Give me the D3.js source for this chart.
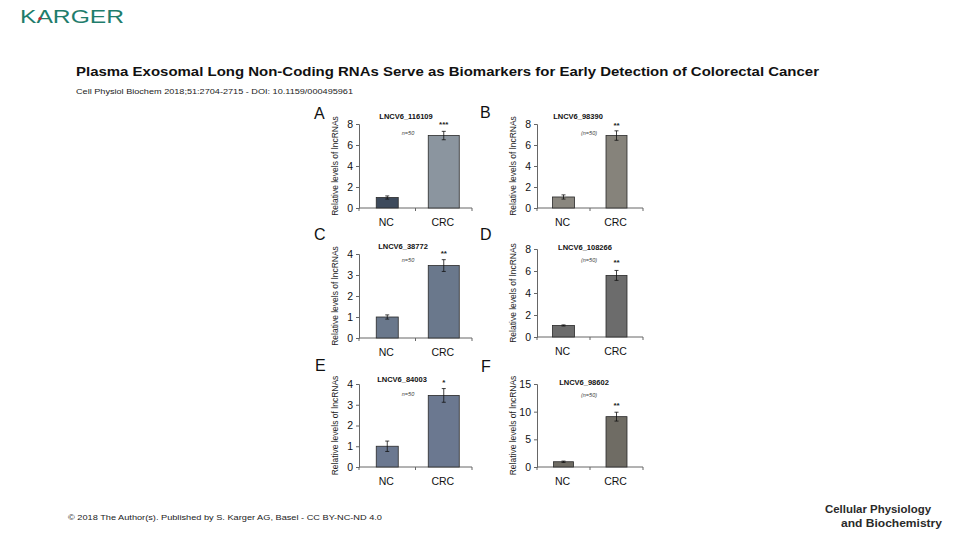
<!DOCTYPE html>
<html>
<head>
<meta charset="utf-8">
<script src="https://cdn.jsdelivr.net/npm/d3@7"></script>
<style>
  html, body { margin: 0; padding: 0; background: #ffffff; }
  svg { display: block; }
  text { font-family: "Liberation Sans", Arial, sans-serif; }
</style>
</head>
<body>
<svg id="chart" width="960" height="540"></svg>
<script>
// ---------------- DATA ----------------
const categories = ["NC", "CRC"];
const panelLetters = ["A", "B", "C", "D", "E", "F"];
const geneNames = ["LNCV6_116109", "LNCV6_98390", "LNCV6_38772", "LNCV6_108266", "LNCV6_84003", "LNCV6_98602"];
const ncMeans  = [1.0, 1.05, 1.0, 1.05, 1.0, 0.95];
const crcMeans = [6.9, 6.9, 3.45, 5.6, 3.45, 9.1];
const ncErrors  = [0.15, 0.2, 0.1, 0.05, 0.25, 0.12];
const crcErrors = [0.4, 0.45, 0.28, 0.45, 0.33, 0.8];
const significance = ["***", "**", "**", "**", "*", "**"];
const sampleLabels = ["n=50", "(n=50)", "n=50", "(n=50)", "n=50", "(n=50)"];
const yMaxima = [8, 8, 4, 8, 4, 15];
const yTickValues = [[0,2,4,6,8],[0,2,4,6,8],[0,1,2,3,4],[0,2,4,6,8],[0,1,2,3,4],[0,5,10,15]];
const yAxisTitle = "Relative levels of lncRNAs";
const mainTitle = "Plasma Exosomal Long Non-Coding RNAs Serve as Biomarkers for Early Detection of Colorectal Cancer";
const citation = "Cell Physiol Biochem 2018;51:2704-2715 -  DOI: 10.1159/000495961";
const footer = "\u00a9 2018 The Author(s). Published by S. Karger AG, Basel - CC BY-NC-ND 4.0";

// ---------------- LAYOUT / STYLE ----------------
const layout = [
  {x0: 359, x1: 472, yTop: 124, yBot: 208, letterX: 314, letterY: 119, titleX: 406, titleY: 119, nX: 408, nY: 135, barW: [22, 31], colors: ["#3d4a5c", "#8b959f"], starDy: -4},
  {x0: 537, x1: 643, yTop: 124, yBot: 208, letterX: 480, letterY: 118, titleX: 578, titleY: 119, nX: 589, nY: 135, barW: [22, 21], colors: ["#8a877f", "#86837b"], starDy: -3},
  {x0: 359, x1: 472, yTop: 254, yBot: 338, letterX: 314, letterY: 240, titleX: 403, titleY: 249, nX: 408, nY: 262, barW: [22, 31], colors: ["#6a788c", "#6a788c"], starDy: -4},
  {x0: 537, x1: 643, yTop: 249, yBot: 337, letterX: 480, letterY: 240, titleX: 585, titleY: 250, nX: 589, nY: 262, barW: [22, 21], colors: ["#6c6c6c", "#6c6c6c"], starDy: -5},
  {x0: 359, x1: 472, yTop: 384, yBot: 467, letterX: 315, letterY: 371, titleX: 402, titleY: 382, nX: 408, nY: 396, barW: [22, 31], colors: ["#6b7890", "#6b7890"], starDy: -4},
  {x0: 537, x1: 643, yTop: 384, yBot: 467, letterX: 481, letterY: 372, titleX: 584, titleY: 385, nX: 589, nY: 397, barW: [20, 21], colors: ["#6f6c64", "#6f6c64"], starDy: -4}
];

const svg = d3.select("#chart");

// Header: KARGER logo
svg.append("text")
  .attr("x", 20).attr("y", 23)
  .attr("font-size", 18).attr("font-weight", "normal")
  .attr("fill", "#1f7d6c")
  .attr("textLength", 104).attr("lengthAdjust", "spacingAndGlyphs")
  .text("KARGER");
svg.append("circle").attr("cx", 40).attr("cy", 18.5).attr("r", 1.6).attr("fill", "#d0202a");

// Title & citation
svg.append("text")
  .attr("x", 76).attr("y", 76)
  .attr("font-size", 13).attr("font-weight", "bold").attr("fill", "#111")
  .attr("textLength", 743).attr("lengthAdjust", "spacingAndGlyphs")
  .text(mainTitle);
svg.append("text")
  .attr("x", 76).attr("y", 94)
  .attr("font-size", 8).attr("fill", "#222")
  .attr("textLength", 277).attr("lengthAdjust", "spacingAndGlyphs")
  .text(citation);

// Footer
svg.append("text")
  .attr("x", 68).attr("y", 520)
  .attr("font-size", 8).attr("fill", "#222")
  .attr("textLength", 314).attr("lengthAdjust", "spacingAndGlyphs")
  .text(footer);

// Journal logo
svg.append("text")
  .attr("x", 825).attr("y", 513)
  .attr("font-size", 11.5).attr("fill", "#2a2a2a").attr("font-weight", "bold")
  .attr("textLength", 106).attr("lengthAdjust", "spacingAndGlyphs")
  .text("Cellular Physiology");
svg.append("text")
  .attr("x", 841).attr("y", 527)
  .attr("font-size", 11.5).attr("fill", "#2a2a2a").attr("font-weight", "bold")
  .attr("textLength", 101).attr("lengthAdjust", "spacingAndGlyphs")
  .text("and Biochemistry");

// ---------------- PANELS ----------------
layout.forEach((L, i) => {
  const g = svg.append("g");
  const x = d3.scaleBand().domain(categories).range([L.x0, L.x1]);
  const y = d3.scaleLinear().domain([0, yMaxima[i]]).range([L.yBot, L.yTop]);

  // Y axis
  const yAxis = d3.axisLeft(y).tickValues(yTickValues[i]).tickSize(3).tickPadding(3).tickFormat(d3.format("d"));
  const ya = g.append("g").attr("transform", `translate(${L.x0},0)`).call(yAxis);
  ya.select(".domain").attr("stroke", "#666").attr("stroke-width", 1);
  ya.selectAll(".tick line").attr("stroke", "#666");
  ya.selectAll(".tick text").attr("font-size", 10.5).attr("fill", "#111").attr("font-family", "Liberation Sans, Arial, sans-serif");

  // X axis: line + boundary ticks
  const xa = g.append("g").attr("transform", `translate(0,${L.yBot})`);
  xa.append("line").attr("x1", L.x0).attr("x2", L.x1).attr("y1", 0).attr("y2", 0).attr("stroke", "#666");
  const boundaries = categories.map(c => x(c)).concat([x.range()[1]]);
  xa.selectAll("line.tk").data(boundaries).enter().append("line")
    .attr("class", "tk")
    .attr("x1", d => d).attr("x2", d => d).attr("y1", 0).attr("y2", 3)
    .attr("stroke", "#666");
  xa.selectAll("text").data(categories).enter().append("text")
    .attr("x", d => x(d) + x.bandwidth() / 2 - 1)
    .attr("y", 18)
    .attr("text-anchor", "middle")
    .attr("font-size", 10.5).attr("fill", "#111")
    .text(d => d);

  // Bars
  const means = [ncMeans[i], crcMeans[i]];
  const errs = [ncErrors[i], crcErrors[i]];
  const bars = categories.map((c, k) => ({cat: c, v: means[k], e: errs[k], w: L.barW[k], color: L.colors[k]}));
  g.selectAll("rect.bar").data(bars).enter().append("rect")
    .attr("class", "bar")
    .attr("x", d => x(d.cat) + x.bandwidth() / 2 - d.w / 2)
    .attr("y", d => y(d.v))
    .attr("width", d => d.w)
    .attr("height", d => y(0) - y(d.v))
    .attr("fill", d => d.color)
    .attr("stroke", "#2a2a2a").attr("stroke-width", 0.8);

  // Error bars
  const eb = g.selectAll("g.eb").data(bars).enter().append("g").attr("class", "eb");
  eb.append("line")
    .attr("x1", d => x(d.cat) + x.bandwidth() / 2).attr("x2", d => x(d.cat) + x.bandwidth() / 2)
    .attr("y1", d => y(d.v + d.e)).attr("y2", d => y(d.v - d.e))
    .attr("stroke", "#111").attr("stroke-width", 0.8);
  [1, -1].forEach(s => {
    eb.append("line")
      .attr("x1", d => x(d.cat) + x.bandwidth() / 2 - 2).attr("x2", d => x(d.cat) + x.bandwidth() / 2 + 2)
      .attr("y1", d => y(d.v + s * d.e)).attr("y2", d => y(d.v + s * d.e))
      .attr("stroke", "#111").attr("stroke-width", 0.8);
  });

  // Significance stars above CRC error bar
  const crc = bars[1];
  g.append("text")
    .attr("x", x(crc.cat) + x.bandwidth() / 2)
    .attr("y", y(crc.v + crc.e) + L.starDy)
    .attr("text-anchor", "middle")
    .attr("font-size", 8).attr("font-weight", "bold").attr("fill", "#222")
    .text(significance[i]);

  // Panel title
  g.append("text")
    .attr("x", L.titleX).attr("y", L.titleY)
    .attr("text-anchor", "middle")
    .attr("font-size", 7.5).attr("font-weight", "bold").attr("fill", "#111")
    .text(geneNames[i]);

  // Sample size
  g.append("text")
    .attr("x", L.nX).attr("y", L.nY)
    .attr("text-anchor", "middle")
    .attr("font-size", 5.5).attr("fill", "#444").attr("font-style", "italic")
    .text(sampleLabels[i]);

  // Panel letter
  g.append("text")
    .attr("x", L.letterX).attr("y", L.letterY)
    .attr("font-size", 16).attr("fill", "#111")
    .text(panelLetters[i]);

  // Y axis title
  const midY = (L.yTop + L.yBot) / 2;
  g.append("text")
    .attr("transform", `translate(${L.x0 - 21},${midY}) rotate(-90)`)
    .attr("text-anchor", "middle")
    .attr("font-size", 8.5).attr("fill", "#222")
    .text(yAxisTitle);
});
</script>
</body>
</html>
